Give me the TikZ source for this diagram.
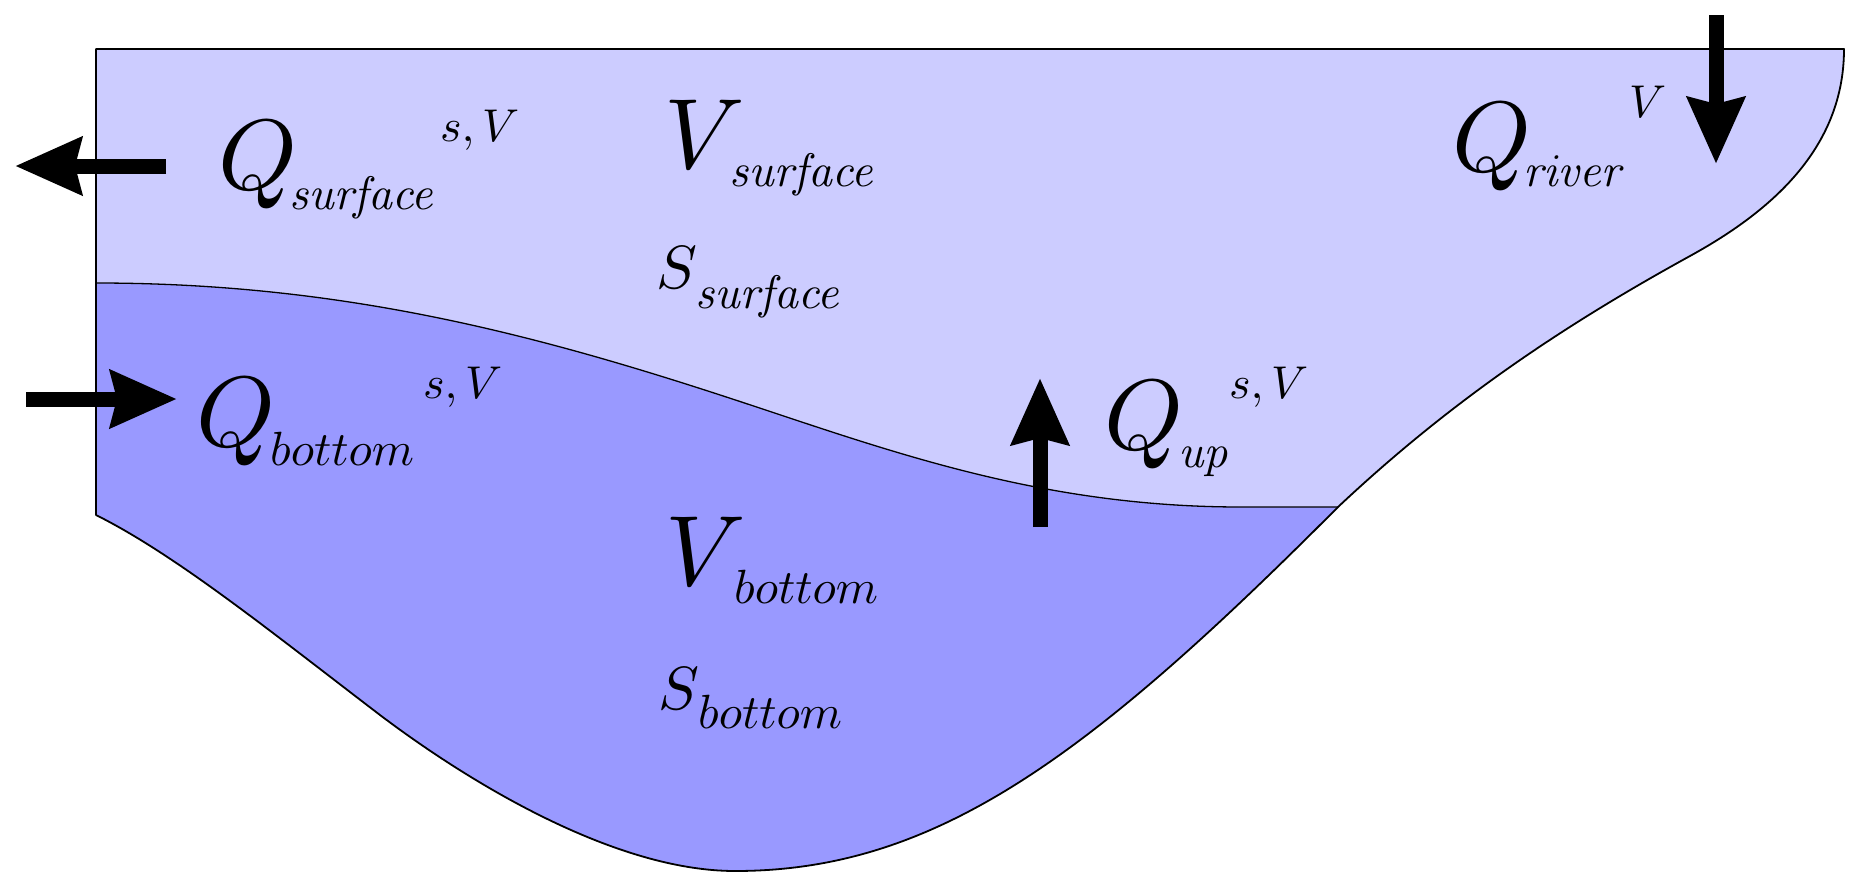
\documentclass[tikz,border=0pt]{standalone}
\usetikzlibrary{arrows.meta}
\DeclareFontShape{OML}{cmm}{m}{it}{<->cmmi10}{}
\DeclareFontShape{OT1}{cmr}{m}{n}{<->cmr10}{}
\DeclareFontShape{OT1}{cmr}{m}{it}{<->cmti10}{}
\DeclareFontShape{OMS}{cmsy}{m}{n}{<->cmsy10}{}
\definecolor{surfblue}{RGB}{204,204,255}
\definecolor{botblue}{RGB}{153,153,255}
\tikzset{
  bigsym/.style={anchor=base west, inner sep=0pt, font=\fontsize{100}{100}\selectfont},
  midsym/.style={anchor=base west, inner sep=0pt, font=\fontsize{61}{61}\selectfont},
  idx/.style={anchor=base west, inner sep=0pt, font=\fontsize{47}{47}\selectfont},
  idxb/.style={anchor=base west, inner sep=0pt, font=\fontsize{48}{48}\selectfont},
  supx/.style={anchor=base west, inner sep=0pt, font=\fontsize{46}{46}\selectfont},
  outline/.style={draw=black, line width=1.8pt, line join=round},
  waterline/.style={draw=black, line width=1.3pt},
  flow/.style={line width=15pt, -{Stealth[length=66pt,width=56pt,inset=6pt]}}
}
\begin{document}
\begin{tikzpicture}[x=1pt,y=-1pt]
\useasboundingbox (0,0) rectangle (1861,889);
% whole basin (surface layer colour)
\fill[surfblue] (96,49) -- (1844,49)
  .. controls (1844,149) and (1770,212) .. (1690,256)
  .. controls (1570,322) and (1455,397) .. (1338,507)
  .. controls (1088,758) and (935,871) .. (735,871)
  .. controls (615,871) and (470,783) .. (380,715)
  .. controls (270,631) and (176,555) .. (96,515) -- cycle;
% bottom layer
\fill[botblue] (96,283)
  .. controls (345,283) and (540,335.5) .. (740,401.5)
  .. controls (890,451) and (1041,507) .. (1241,507) -- (1338,507)
  .. controls (1088,758) and (935,871) .. (735,871)
  .. controls (615,871) and (470,783) .. (380,715)
  .. controls (270,631) and (176,555) .. (96,515) -- cycle;
% interface
\draw[waterline] (96,283)
  .. controls (345,283) and (540,335.5) .. (740,401.5)
  .. controls (890,451) and (1041,507) .. (1241,507) -- (1338,507);
% outline
\draw[outline] (96,49) -- (1844,49)
  .. controls (1844,149) and (1770,212) .. (1690,256)
  .. controls (1570,322) and (1455,397) .. (1338,507)
  .. controls (1088,758) and (935,871) .. (735,871)
  .. controls (615,871) and (470,783) .. (380,715)
  .. controls (270,631) and (176,555) .. (96,515) -- cycle;

% arrows
\coordinate (outS) at (166,166);
\coordinate (outE) at (15,166);
\coordinate (inS) at (26,399);
\coordinate (inE) at (177,399);
\coordinate (upS) at (1040,527);
\coordinate (upE) at (1040,378);
\coordinate (rvS) at (1716,15);
\coordinate (rvE) at (1716,164);
\draw[flow] (outS) -- (outE);
\draw[flow] (inS) -- (inE);
\draw[flow] (upS) -- (upE);
\draw[flow] (rvS) -- (rvE);

% labels
\node[bigsym] (qs) at (218,189) {$Q$};
\node[idx] (qssub) at (289,209) {$\mathit{surface}$};
\node[supx] (qssup) at (440,141) {$s,V$};

\node[bigsym] (qb) at (196,446) {$Q$};
\node[idxb] (qbsub) at (270,465) {$bottom$};
\node[supx] (qbsup) at (423,398) {$s,V$};

\node[bigsym] (qu) at (1104,449) {$Q$};
\node[idx] (qusub) at (1178,467) {$\mathit{up}$};
\node[supx] (qusup) at (1229,398) {$s,V$};

\node[bigsym] (qr) at (1452,171) {$Q$};
\node[idx] (qrsub) at (1523,186) {$\mathit{river}$};
\node[supx] (qrsup) at (1629,117) {$V$};

\node[bigsym] (vs) at (664,168) {$V$};
\node[idx] (vssub) at (729,186) {$\mathit{surface}$};
\node[midsym] (ss) at (656,288) {$S$};
\node[idx] (sssub) at (695,308) {$\mathit{surface}$};

\node[bigsym] (vb) at (665,585) {$V$};
\node[idxb] (vbsub) at (734,603) {$bottom$};
\node[midsym] (sb) at (658,709) {$S$};
\node[idxb] (sbsub) at (698,728) {$bottom$};
\end{tikzpicture}
\end{document}
